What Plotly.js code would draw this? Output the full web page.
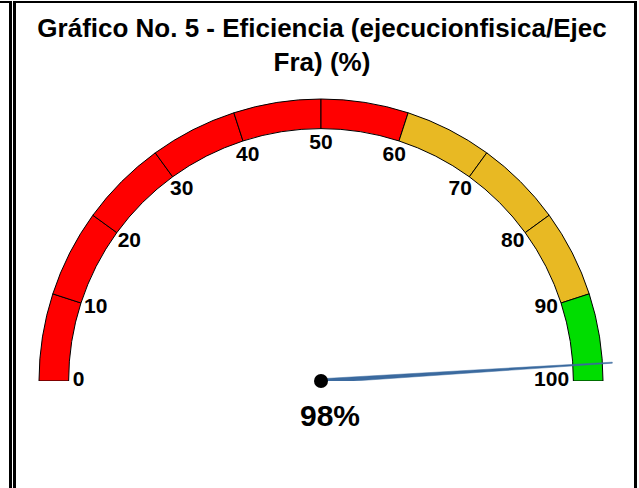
<!DOCTYPE html>
<html>
<head>
<meta charset="utf-8">
<script src="https://cdn.plot.ly/plotly-3.0.1.min.js"></script>
<style>
  html, body { margin: 0; padding: 0; background: #ffffff; }
  #wrap { position: relative; width: 639px; height: 488px; overflow: hidden; }
  #chart { position: absolute; left: 0; top: 0; width: 639px; height: 488px; }
  .frame { position: absolute; pointer-events: none; box-sizing: border-box; }
</style>
</head>
<body>
<div id="wrap">
  <div id="chart"></div>
  <div class="frame" style="left:-20px; top:1px; width:32px; height:600px; border-top:2px solid #000; border-right:3px solid #000;"></div>
  <div class="frame" style="left:13px; top:1px; width:624px; height:600px; border-top:2px solid #000; border-left:3px solid #000; border-right:3px solid #000;"></div>
</div>
<script>
// ---- data ----
const chartTitle = 'Gráfico No. 5 - Eficiencia (ejecucionfisica/Ejec<br>Fra) (%)';
const gaugeMin = 0;
const gaugeMax = 100;
const tickValues = [0, 10, 20, 30, 40, 50, 60, 70, 80, 90, 100];
const tickLabels = ['0', '10', '20', '30', '40', '50', '60', '70', '80', '90', '100'];
const bandLimits = [60, 90, 100];
const bandColors = ['#ff0000', '#e8b923', '#00dd00'];
const needleValue = 98;

// ---- helpers ----
const toTheta = v => 180 - 180 * (v - gaugeMin) / (gaugeMax - gaugeMin);
const bandColor = v => { for (let i = 0; i < bandLimits.length; i++) if (v <= bandLimits[i]) return bandColors[i]; return bandColors[bandColors.length - 1]; };

const innerR = 0.895, outerR = 1.0;
const segTheta = [], segWidth = [], segColor = [], segR = [], segBase = [];
for (let i = 0; i < tickValues.length - 1; i++) {
  const a = tickValues[i], b = tickValues[i + 1];
  segTheta.push(toTheta((a + b) / 2));
  segWidth.push(Math.abs(toTheta(a) - toTheta(b)));
  segColor.push(bandColor((a + b) / 2));
  segR.push(outerR - innerR);
  segBase.push(innerR);
}

const labelR = tickValues.map((v, i) => (i === 0 || i === tickValues.length - 1) ? 0.88 : 0.84);
const labelPos = tickValues.map((v, i) => i === 0 ? 'middle right' : (i === tickValues.length - 1 ? 'middle left' : 'middle center'));

const tn = toTheta(needleValue);
const font = { family: 'Liberation Sans, Arial, sans-serif', color: '#000000', weight: 'bold' };

const traces = [
  {
    type: 'barpolar', theta: segTheta, r: segR, base: segBase, width: segWidth,
    marker: { color: segColor, line: { color: '#000000', width: 1 } },
    hoverinfo: 'skip'
  },
  {
    type: 'scatterpolar', mode: 'text', r: labelR, theta: tickValues.map(toTheta),
    text: tickLabels, textposition: labelPos,
    textfont: Object.assign({}, font, { size: 21 }), hoverinfo: 'skip', cliponaxis: false
  },
  {
    type: 'scatterpolar', mode: 'lines', fill: 'toself', fillcolor: '#3b6a9f',
    r: [0.008, 1.035, 1.035, 0.008],
    theta: [tn + 90, tn + 0.1, tn - 0.1, tn - 90],
    line: { color: '#3b6a9f', width: 0.5 }, hoverinfo: 'skip', cliponaxis: false
  },
  {
    type: 'scatterpolar', mode: 'markers', r: [0], theta: [0],
    marker: { color: '#000000', size: 14 }, hoverinfo: 'skip', cliponaxis: false
  }
];

const W = 639, H = 488, cx = 321, cy = 381, Rpx = 282 * 1.04;
const layout = {
  width: W, height: H,
  margin: { l: 0, r: 0, t: 0, b: 0 },
  paper_bgcolor: '#ffffff',
  showlegend: false,
  title: {
    text: chartTitle, x: 322 / W, xanchor: 'center', xref: 'paper',
    y: 1 - 37 / H, yanchor: 'top', yref: 'container',
    font: Object.assign({}, font, { size: 26 })
  },
  polar: {
    domain: { x: [(cx - Rpx) / W, (cx + Rpx) / W], y: [1 - cy / H, 1 - (cy - Rpx) / H] },
    sector: [0, 180], hole: 0, bgcolor: 'rgba(0,0,0,0)',
    radialaxis: { visible: false, range: [0, 1.04] },
    angularaxis: { visible: false, rotation: 0, direction: 'counterclockwise' }
  },
  annotations: [{
    text: needleValue + '%', x: 330 / W, y: 1 - 415.5 / H, xref: 'paper', yref: 'paper',
    xanchor: 'center', yanchor: 'middle', showarrow: false,
    font: Object.assign({}, font, { size: 30 })
  }]
};

Plotly.newPlot('chart', traces, layout, { displayModeBar: false, staticPlot: true });
</script>
</body>
</html>
